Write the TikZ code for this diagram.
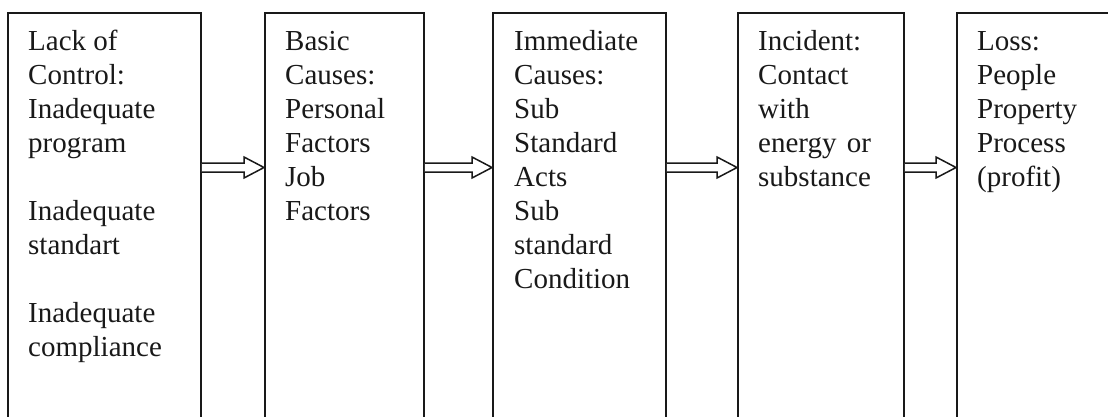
\documentclass[tikz,border=0pt]{standalone}
\usepackage{fontspec}
\usepackage{calc}
\setmainfont{Liberation Serif}
\usetikzlibrary{calc}

\tikzset{
  stage/.style={draw=black!90, line width=1.8pt, inner sep=0pt, anchor=north west,
    minimum height=440pt},
  stagetext/.style={inner sep=0pt, anchor=base west, text=black!90,
    font=\fontsize{29}{34}\selectfont},
  flow/.style={draw=black!90, line width=1.5pt, fill=white, line join=miter},
}

% hollow block arrow from the east side of #1 to the west side of #2
\newcommand\flowarrow[2]{%
  \draw[flow] ($(#1.north east)+(0,151)$) -- ($(#2.north west)+(-20,151)$)
    -- ($(#2.north west)+(-20,145)$) -- ($(#2.north west)+(0,155.5)$)
    -- ($(#2.north west)+(-20,166)$) -- ($(#2.north west)+(-20,160)$)
    -- ($(#1.north east)+(0,160)$);}

\begin{document}
\begin{tikzpicture}[x=1pt, y=-1pt]
  \useasboundingbox (0,0) rectangle (1108,416);
  \clip (0,0) rectangle (1108,416);
  \fill[white] (0,0) rectangle (1108,416);

  % the five stages
  \node[stage, minimum width=193pt] (s1) at (7,12) {};
  \node[stage, minimum width=159pt] (s2) at (264,12) {};
  \node[stage, minimum width=173pt] (s3) at (492,12) {};
  \node[stage, minimum width=166pt] (s4) at (737,12) {};
  \node[stage, minimum width=170pt] (s5) at (956,12) {};

  % stage texts
  \node[stagetext] (t1) at ($(s1.north west)+(21,38)$)
    {\parbox[t]{170pt}{\raggedright Lack of\\Control:\\Inadequate\\program\\[34pt]Inadequate\\standart\\[34pt]Inadequate\\compliance}};
  \node[stagetext] (t2) at ($(s2.north west)+(21,38)$)
    {\parbox[t]{138pt}{\raggedright Basic\\Causes:\\Personal\\Factors\\Job\\Factors}};
  \node[stagetext] (t3) at ($(s3.north west)+(22,38)$)
    {\parbox[t]{150pt}{\raggedright Immediate\\Causes:\\Sub\\Standard\\Acts\\Sub\\standard\\Condition}};
  \node[stagetext] (t4) at ($(s4.north west)+(21,38)$)
    {\parbox[t]{140pt}{\raggedright Incident:\\Contact\\with\\\makebox[\widthof{substance}][s]{energy\hfill or}\\substance}};
  \node[stagetext] (t5) at ($(s5.north west)+(21,38)$)
    {\parbox[t]{140pt}{\raggedright Loss:\\People\\Property\\Process\\(profit)}};

  % connectors
  \flowarrow{s1}{s2}
  \flowarrow{s2}{s3}
  \flowarrow{s3}{s4}
  \flowarrow{s4}{s5}
\end{tikzpicture}
\end{document}
